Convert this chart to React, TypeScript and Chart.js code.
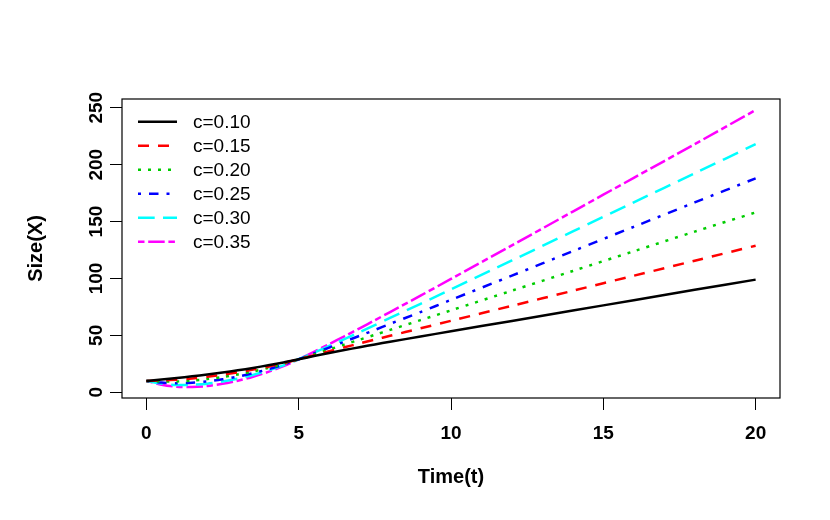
import React, { useEffect, useRef } from 'react';
import { Chart, registerables } from 'chart.js';

Chart.register(...registerables);

const timePoints = [0, 0.5, 1, 1.5, 2, 2.5, 3, 3.5, 4, 4.5, 5, 5.5, 6, 6.5, 7, 7.5, 8, 9, 10, 12, 14, 16, 18, 20];
const sizeC010 = [10, 11.3, 12.6, 14, 15.6, 17.4, 19.3, 21.4, 23.7, 26.2, 29, 31.8, 34.5, 37.1, 39.6, 42, 44.4, 49, 53.6, 62.7, 71.8, 80.9, 90, 99];
const sizeC015 = [10, 10.4, 11.1, 12.1, 13.6, 15.4, 17.5, 19.9, 22.5, 25.6, 29, 32.6, 36.1, 39.5, 42.9, 46.3, 49.6, 56.2, 62.8, 76, 89.2, 102.4, 115.6, 128.8];
const sizeC020 = [10, 9.5, 9.5, 10.3, 11.6, 13.4, 15.7, 18.3, 21.4, 24.9, 29, 33.3, 37.6, 41.9, 46.2, 50.5, 54.8, 63.4, 72, 89.3, 106.6, 123.9, 141.2, 158];
const sizeC025 = [10, 8.5, 8.0, 8.4, 9.5, 11.4, 13.8, 16.8, 20.2, 24.3, 29, 34.1, 39.2, 44.4, 49.6, 54.8, 60.1, 70.5, 81.2, 102.5, 124, 145.4, 166.8, 188];
const sizeC030 = [10, 7.6, 6.4, 6.6, 7.5, 9.4, 12.0, 15.2, 19.1, 23.6, 29, 34.8, 40.7, 46.8, 52.9, 59.0, 65.3, 77.7, 90.4, 115.8, 141.4, 166.9, 192.4, 218];
const sizeC035 = [10, 6.7, 4.9, 4.7, 5.5, 7.4, 10.2, 13.7, 17.9, 23.0, 29, 35.6, 42.3, 49.2, 56.2, 63.3, 70.5, 84.9, 99.6, 129.1, 158.8, 188.4, 218, 248];

const seriesLabels = ['c=0.10', 'c=0.15', 'c=0.20', 'c=0.25', 'c=0.30', 'c=0.35'];
const seriesValues = [sizeC010, sizeC015, sizeC020, sizeC025, sizeC030, sizeC035];
const seriesColors = ['#000000', '#FF0000', '#00CD00', '#0000FF', '#00FFFF', '#FF00FF'];
const seriesDashes: number[][] = [[], [11, 9], [3, 7], [3, 8, 9.5, 8], [16.7, 8.3], [6.5, 3.7, 16.5, 3.7]];

const xTickValues = [0, 5, 10, 15, 20];
const yTickValues = [0, 50, 100, 150, 200, 250];

const FONT = '"Liberation Sans", Arial, Helvetica, sans-serif';

const decorPlugin = {
  id: 'rDecor',
  afterDraw(chart: any) {
    const ctx = chart.ctx;
    const area = chart.chartArea;
    const yScale = chart.scales.y;
    ctx.save();
    // box
    ctx.strokeStyle = '#000';
    ctx.lineWidth = 1.2;
    ctx.strokeRect(area.left, area.top, area.right - area.left, area.bottom - area.top);

    // y tick labels (rotated)
    ctx.fillStyle = '#000';
    ctx.font = `bold 19px ${FONT}`;
    ctx.textAlign = 'center';
    ctx.textBaseline = 'middle';
    yTickValues.forEach((v) => {
      const py = yScale.getPixelForValue(v);
      ctx.save();
      ctx.translate(97, py);
      ctx.rotate(-Math.PI / 2);
      ctx.fillText(String(v), 0, 0);
      ctx.restore();
    });

    // axis titles
    ctx.font = `bold 20px ${FONT}`;
    ctx.textBaseline = 'alphabetic';
    ctx.fillText('Time(t)', (area.left + area.right) / 2, 483);
    ctx.save();
    ctx.translate(42, (area.top + area.bottom) / 2);
    ctx.rotate(-Math.PI / 2);
    ctx.fillText('Size(X)', 0, 0);
    ctx.restore();

    // legend
    ctx.font = `19px ${FONT}`;
    ctx.textAlign = 'left';
    ctx.textBaseline = 'middle';
    chart.data.datasets.forEach((ds: any, i: number) => {
      const yy = 121.7 + 24 * i;
      ctx.save();
      ctx.strokeStyle = ds.borderColor;
      ctx.lineWidth = ds.borderWidth;
      ctx.setLineDash(ds.borderDash || []);
      ctx.beginPath();
      ctx.moveTo(138, yy);
      ctx.lineTo(177, yy);
      ctx.stroke();
      ctx.restore();
      ctx.fillStyle = '#000';
      ctx.fillText(ds.label, 193, yy + 1);
    });
    ctx.restore();
  },
};

export default function App() {
  const canvasRef = useRef<HTMLCanvasElement | null>(null);

  useEffect(() => {
    document.body.style.margin = '0';
    const canvas = canvasRef.current;
    if (!canvas) return;
    const datasets = seriesValues.map((vals, i) => ({
      label: seriesLabels[i],
      data: timePoints.map((t, j) => ({ x: t, y: vals[j] })),
      borderColor: seriesColors[i],
      backgroundColor: seriesColors[i],
      borderWidth: 2.5,
      borderDash: seriesDashes[i],
      borderCapStyle: 'butt' as const,
      pointRadius: 0,
      tension: 0.3,
      fill: false,
    }));
    const chart = new Chart(canvas, {
      type: 'line',
      data: { datasets },
      options: {
        animation: false,
        responsive: true,
        maintainAspectRatio: false,
        layout: { padding: { left: 0, right: 50, top: 99, bottom: 0 } },
        plugins: {
          legend: { display: false },
          tooltip: { enabled: false },
        },
        scales: {
          x: {
            type: 'linear',
            min: -0.8,
            max: 20.8,
            afterBuildTicks: (scale: any) => {
              scale.ticks = xTickValues.map((v) => ({ value: v }));
            },
            afterFit: (scale: any) => {
              scale.height = 122;
            },
            grid: {
              drawOnChartArea: false,
              drawTicks: true,
              tickLength: 12,
              color: '#000',
              lineWidth: 1,
            },
            border: { display: false },
            ticks: {
              autoSkip: false,
              maxRotation: 0,
              minRotation: 0,
              padding: 12.5,
              color: '#000',
              font: { family: FONT, size: 19, weight: 'bold' },
              callback: (v: any) => String(v),
            },
          },
          y: {
            type: 'linear',
            min: -5.03,
            max: 257.7,
            afterBuildTicks: (scale: any) => {
              scale.ticks = yTickValues.map((v) => ({ value: v }));
            },
            afterFit: (scale: any) => {
              scale.width = 122;
            },
            grid: {
              drawOnChartArea: false,
              drawTicks: true,
              tickLength: 12,
              color: '#000',
              lineWidth: 1,
            },
            border: { display: false },
            ticks: { display: false },
          },
        },
      },
      plugins: [decorPlugin],
    });
    return () => chart.destroy();
  }, []);

  return (
    <div style={{ width: 830, height: 520, position: 'relative', background: '#fff' }}>
      <canvas ref={canvasRef} />
    </div>
  );
}
